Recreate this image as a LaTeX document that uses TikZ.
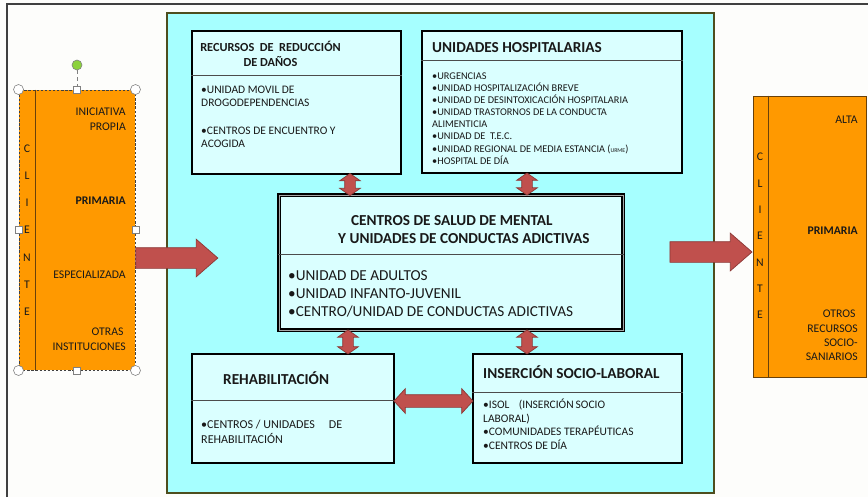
\documentclass[tikz,border=0pt]{standalone}
\usepackage{fontspec}
\setmainfont{Carlito}
\usetikzlibrary{shapes.arrows,calc}

\definecolor{paper}{RGB}{253,253,251}
\definecolor{outcyan}{RGB}{166,255,255}
\definecolor{incyan}{RGB}{218,255,255}
\definecolor{mainedge}{RGB}{78,78,30}
\definecolor{orangefill}{RGB}{255,153,0}
\definecolor{orangeedge}{RGB}{105,65,10}
\definecolor{arrowfill}{RGB}{192,80,77}
\definecolor{arrowedge}{RGB}{140,56,54}
\definecolor{handlegreen}{RGB}{140,210,60}

\begin{document}
\begin{tikzpicture}[x=0.03cm, y=-0.03cm, text=black!90,
  big box/.style={draw=mainedge, fill=outcyan, line width=0.9pt, inner sep=0pt},
  unit box/.style={draw=black, fill=incyan, line width=1pt, inner sep=0pt},
  client box/.style={draw=orangeedge, fill=orangefill, line width=0.8pt, inner sep=0pt},
  divider/.style={draw=black!70, line width=0.6pt},
  box title/.style={font=\bfseries\fontsize{13}{15}\selectfont, inner sep=0pt, anchor=base west},
  box items/.style={inner sep=0pt, anchor=base west, align=left},
  side text/.style={font=\fontsize{10}{12.8}\selectfont, inner sep=0pt, anchor=base east, align=right},
  letters/.style={inner sep=0pt, anchor=base, align=center},
  fat arrow/.style={single arrow, draw=arrowedge, fill=arrowfill, line width=0.6pt, inner xsep=0pt, inner ysep=0.3cm, single arrow head extend=0.255cm, single arrow tip angle=82, minimum height=2.46cm, minimum width=0pt},
  link arrow/.style={double arrow, draw=arrowedge, fill=arrowfill, line width=0.6pt, inner xsep=0pt, inner ysep=0.15cm, double arrow head extend=0.15cm, double arrow tip angle=110, minimum width=0pt},
  round handle/.style={circle, draw=gray, fill=white, line width=0.5pt, minimum size=0.3cm, inner sep=0pt},
  square handle/.style={rectangle, draw=gray, fill=white, line width=0.5pt, minimum size=0.2cm, inner sep=0pt}]

  \useasboundingbox (0,0) rectangle (868,497);
  \fill[paper] (0,0) rectangle (868,497);
  \draw[black!75, line width=1.2pt] (7,497) -- (7,4) -- (868,4);

  % network of units
  \node[big box, minimum width=16.41cm, minimum height=14.4cm] (main) at (440.5,253) {};
  \node[unit box, minimum width=6.27cm, minimum height=4.29cm] (rrd) at (296.5,102.5) {};
  \node[unit box, minimum width=7.8cm, minimum height=4.26cm] (uh) at (552,102) {};
  \node[unit box, draw=black, line width=0.9pt, double=gray!70, double distance=0.8pt, minimum width=10.32cm, minimum height=4.05cm] (csm) at (451,262.5) {};
  \node[unit box, minimum width=6.06cm, minimum height=3.27cm] (reh) at (293,408.5) {};
  \node[unit box, minimum width=6.27cm, minimum height=3.27cm] (isl) at (577.5,408.5) {};

  \draw[divider] (rrd.west |- 0,75) -- (rrd.east |- 0,75);
  \draw[divider] (uh.west |- 0,60) -- (uh.east |- 0,60);
  \draw[divider] (csm.west |- 0,254) -- (csm.east |- 0,254);
  \draw[divider] (reh.west |- 0,400) -- (reh.east |- 0,400);
  \draw[divider] (isl.west |- 0,392) -- (isl.east |- 0,392);

  % the base of a text of several lines is its last line
  \node[box title, font=\bfseries\fontsize{10.5}{12.8}\selectfont, anchor=base, align=center] (rrdT) at (270.5,66.6) {RECURSOS\ \ DE\ \ REDUCCIÓN\\DE DAÑOS};
  \node[box items, font=\fontsize{9.8}{11.1}\selectfont] (rrdI) at (201,147.4) {•UNIDAD MOVIL DE\\DROGODEPENDENCIAS\\[12.8pt]•CENTROS DE ENCUENTRO Y\\ACOGIDA};

  \node[box title] (uhT) at (432,52.5) {UNIDADES HOSPITALARIAS};
  \node[box items, font=\fontsize{8.8}{10.4}\selectfont] (uhI) at (432,164.3) {•URGENCIAS\\•UNIDAD HOSPITALIZACIÓN BREVE\\•UNIDAD DE DESINTOXICACIÓN HOSPITALARIA\\•UNIDAD TRASTORNOS DE LA CONDUCTA\\ALIMENTICIA\\•UNIDAD DE\ \ T.E.C.\\•UNIDAD REGIONAL DE MEDIA ESTANCIA ({\fontsize{5}{5}\selectfont URME})\\•HOSPITAL DE DÍA};

  \node[box title, font=\bfseries\fontsize{13}{15.4}\selectfont, align=left] (csmT) at (338,243.8) {\hspace*{11pt}CENTROS DE SALUD DE MENTAL\\Y UNIDADES DE CONDUCTAS ADICTIVAS};
  \node[box items, font=\fontsize{13}{15.4}\selectfont] (csmI) at (288,316.8) {•UNIDAD DE ADULTOS\\•UNIDAD INFANTO-JUVENIL\\•CENTRO/UNIDAD DE CONDUCTAS ADICTIVAS};

  \node[box title] (rehT) at (223,384) {REHABILITACIÓN};
  \node[box items, font=\fontsize{10.3}{12}\selectfont] (rehI) at (201,443) {•CENTROS / UNIDADES\hspace{12pt}DE\\REHABILITACIÓN};

  \node[box title] (islT) at (483,378) {INSERCIÓN SOCIO-LABORAL};
  \node[box items, font=\fontsize{9.8}{11.7}\selectfont] (islI) at (483,449.6) {•ISOL\hspace{8pt}(INSERCIÓN\,SOCIO\\LABORAL)\\•COMUNIDADES TERAPÉUTICAS\\•CENTROS DE DÍA};

  % clients
  \node[client box, draw=black!75, dashed, dash pattern=on 2pt off 1.5pt, minimum width=3.48cm, minimum height=8.4cm] (lcl) at (77,230) {};
  \draw[orangeedge, line width=0.8pt] (lcl.north -| 35,0) -- (lcl.south -| 35,0);
  \node[letters, font=\fontsize{10}{23.3}\selectfont] (lcli) at (27,315.8) {C\\L\\I\\E\\N\\T\\E};
  \node[side text] (lin) at (126,130.8) {INICIATIVA\\PROPIA};
  \node[side text, font=\bfseries\fontsize{10}{12.8}\selectfont] (lpr) at (126,204.8) {PRIMARIA};
  \node[side text] (les) at (126,278.8) {ESPECIALIZADA};
  \node[side text] (lot) at (126,350.8) {OTRAS\hspace*{2pt}\\INSTITUCIONES};

  \node[client box, minimum width=3.39cm, minimum height=8.43cm] (rcl) at (809.5,236.5) {};
  \draw[orangeedge, line width=0.8pt] (rcl.north -| 768,0) -- (rcl.south -| 768,0);
  \node[letters, font=\fontsize{10}{22.5}\selectfont] (rcli) at (760,318.8) {C\\L\\I\\E\\N\\T\\E};
  \node[side text] (ral) at (858,123.8) {ALTA};
  \node[side text, font=\bfseries\fontsize{10}{12.8}\selectfont] (rpr) at (858,234.8) {PRIMARIA};
  \node[side text, font=\fontsize{10}{12.2}\selectfont] (rot) at (858,360.8) {OTROS\hspace*{2pt}\\RECURSOS\\SOCIO-\\SANIARIOS};

  % arrows
  \node[fat arrow, anchor=tail] (inA) at (lcl.east |- 0,258) {};
  \node[fat arrow, anchor=tip] (outA) at (rcl.west |- 0,252) {};
  \node[link arrow, rotate=90, minimum height=0.66cm] (a1) at ($(rrd.south -| 350,0)!.5!(csm.north -| 350,0)$) {};
  \node[link arrow, rotate=90, minimum height=0.66cm] (a2) at ($(uh.south -| 527,0)!.5!(csm.north -| 527,0)$) {};
  \node[link arrow, rotate=90, minimum height=0.72cm] (a3) at ($(csm.south -| 348,0)!.5!(reh.north -| 348,0)$) {};
  \node[link arrow, rotate=90, minimum height=0.72cm] (a4) at ($(csm.south -| 527,0)!.5!(isl.north -| 527,0)$) {};
  \node[link arrow, inner ysep=0.18cm, double arrow head extend=0.18cm, double arrow tip angle=95, minimum height=2.37cm] (a5) at ($(reh.east |- 0,401)!.5!(isl.west |- 0,401)$) {};

  % selection handles
  \node[round handle, fill=handlegreen] (rot0) at (77,65) {};
  \draw[gray, dashed, line width=0.5pt] (rot0) -- (lcl.north);
  \foreach \a/\n in {north west/h1, north east/h2, south west/h3, south east/h4}
    \node[round handle] (\n) at (lcl.\a) {};
  \foreach \a/\n in {north/h5, south/h6, west/h7, east/h8}
    \node[square handle] (\n) at (lcl.\a) {};
\end{tikzpicture}
\end{document}
